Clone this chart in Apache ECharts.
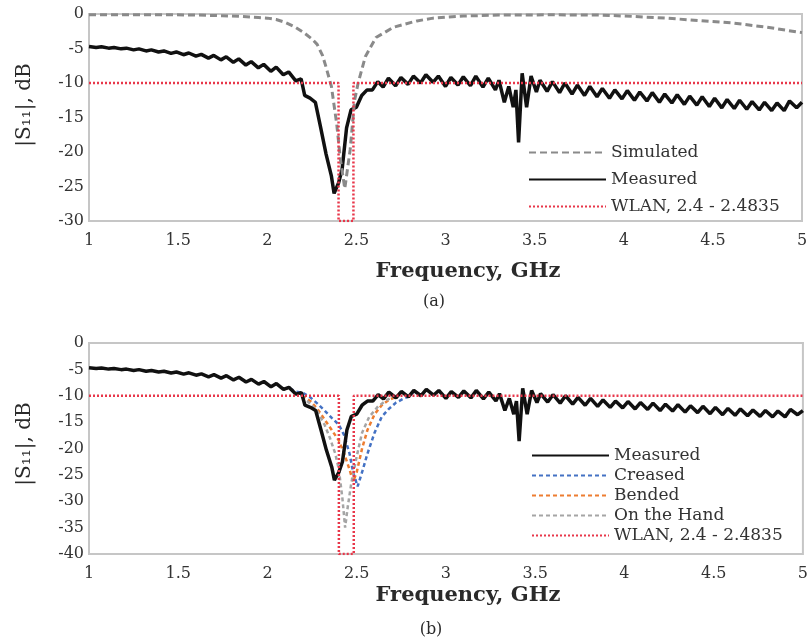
<!DOCTYPE html>
<html>
<head>
<meta charset="utf-8">
<script src="https://cdn.jsdelivr.net/npm/echarts@6/dist/echarts.min.js"></script>
<style>
  html, body { margin: 0; padding: 0; background: #ffffff; }
  #chart { width: 811px; height: 644px; }
</style>
</head>
<body>
<div id="chart"></div>
<script>
// |S11| return loss, frequency in GHz, values in dB

const xTicks = [1, 1.5, 2, 2.5, 3, 3.5, 4, 4.5, 5];
const yTicksA = [0, -5, -10, -15, -20, -25, -30];
const yTicksB = [0, -5, -10, -15, -20, -25, -30, -35, -40];

// Simulated response (panel a)
const simulated = [
  [1.00, -0.10], [1.20, -0.10], [1.40, -0.10], [1.60, -0.15], [1.75, -0.25],
  [1.85, -0.35], [1.95, -0.50], [2.00, -0.60], [2.05, -0.80], [2.10, -1.20],
  [2.15, -1.80], [2.20, -2.60], [2.25, -3.60], [2.28, -4.40], [2.31, -6.00],
  [2.33, -7.70], [2.36, -10.5], [2.39, -16.0], [2.41, -21.0], [2.435, -25.3],
  [2.465, -19.7], [2.49, -12.5], [2.51, -10.0], [2.55, -6.20], [2.61, -3.40],
  [2.71, -1.90], [2.84, -1.00], [2.93, -0.60], [3.10, -0.30], [3.30, -0.15],
  [3.60, -0.12], [3.87, -0.15], [4.05, -0.35], [4.24, -0.60], [4.42, -0.95],
  [4.61, -1.30], [4.80, -1.90], [4.97, -2.60], [5.00, -2.70]
];

// Measured response (both panels)
const measured = [
  [1.00, -4.70], [1.04, -4.85], [1.07, -4.75], [1.11, -4.95], [1.14, -4.85],
  [1.18, -5.05], [1.21, -4.95], [1.25, -5.20], [1.28, -5.05], [1.32, -5.35],
  [1.35, -5.20], [1.39, -5.50], [1.42, -5.35], [1.46, -5.70], [1.49, -5.50],
  [1.53, -5.90], [1.56, -5.65], [1.60, -6.10], [1.63, -5.85], [1.67, -6.40],
  [1.70, -6.00], [1.74, -6.65], [1.77, -6.20], [1.81, -7.00], [1.84, -6.50],
  [1.88, -7.40], [1.91, -6.90], [1.95, -7.80], [1.98, -7.30], [2.02, -8.30],
  [2.05, -7.70], [2.09, -8.80], [2.12, -8.40], [2.16, -9.70], [2.19, -9.40],
  [2.21, -11.8], [2.24, -12.2], [2.27, -12.8], [2.30, -16.5], [2.33, -20.3],
  [2.36, -23.5], [2.375, -26.0], [2.40, -24.5], [2.42, -22.5], [2.445, -16.5],
  [2.47, -13.9], [2.50, -13.5], [2.53, -11.8], [2.56, -11.0], [2.59, -11.0],
  [2.62, -9.80], [2.65, -10.6], [2.68, -9.30], [2.72, -10.4], [2.75, -9.20],
  [2.79, -10.2], [2.82, -9.00], [2.86, -10.0], [2.89, -8.80], [2.93, -9.90],
  [2.96, -9.00], [3.00, -10.5], [3.03, -9.20], [3.07, -10.3], [3.10, -9.10],
  [3.14, -10.4], [3.17, -9.00], [3.21, -10.6], [3.24, -9.30], [3.28, -11.0],
  [3.30, -9.60], [3.33, -12.8], [3.355, -10.5], [3.38, -13.5], [3.395, -11.0],
  [3.41, -18.6], [3.43, -8.60], [3.455, -13.5], [3.48, -9.00], [3.51, -11.3],
  [3.53, -9.60], [3.57, -11.2], [3.60, -9.80], [3.64, -11.4], [3.67, -10.0],
  [3.71, -11.6], [3.74, -10.3], [3.78, -11.8], [3.81, -10.5], [3.85, -12.0],
  [3.88, -10.8], [3.92, -12.2], [3.95, -11.0], [3.99, -12.3], [4.02, -11.1],
  [4.06, -12.5], [4.09, -11.3], [4.13, -12.6], [4.16, -11.4], [4.20, -12.8],
  [4.23, -11.6], [4.27, -12.9], [4.30, -11.7], [4.34, -13.1], [4.37, -11.9],
  [4.41, -13.2], [4.44, -12.0], [4.48, -13.4], [4.51, -12.2], [4.55, -13.6],
  [4.58, -12.4], [4.62, -13.7], [4.65, -12.5], [4.69, -13.8], [4.72, -12.7],
  [4.76, -13.9], [4.79, -12.8], [4.83, -14.0], [4.86, -12.9], [4.90, -14.0],
  [4.93, -12.6], [4.97, -13.6], [5.00, -12.8]
];

// Deformed-antenna responses (panel b), only where they leave the measured trace
const creased = [
  [2.09, -8.80], [2.12, -8.50], [2.16, -9.20], [2.20, -9.50], [2.24, -10.3],
  [2.28, -11.5], [2.32, -12.8], [2.36, -14.2], [2.40, -15.5], [2.43, -17.5],
  [2.46, -21.0], [2.48, -24.5], [2.505, -27.2], [2.53, -24.5], [2.56, -21.0],
  [2.60, -17.0], [2.64, -14.0], [2.68, -12.5], [2.72, -11.3], [2.76, -10.6],
  [2.80, -10.0], [2.82, -9.20]
];
const bended = [
  [2.09, -8.80], [2.12, -8.50], [2.16, -9.50], [2.20, -10.2], [2.24, -11.0],
  [2.28, -12.5], [2.32, -14.5], [2.36, -16.5], [2.40, -18.5], [2.43, -21.0],
  [2.46, -24.0], [2.48, -26.3], [2.50, -24.5], [2.53, -20.0], [2.56, -16.5],
  [2.60, -13.5], [2.64, -11.8], [2.68, -10.8], [2.72, -10.2], [2.75, -9.30]
];
const onTheHand = [
  [2.09, -8.80], [2.12, -8.50], [2.16, -9.60], [2.20, -10.4], [2.24, -11.5],
  [2.28, -13.0], [2.32, -15.5], [2.35, -18.0], [2.38, -21.0], [2.40, -24.0],
  [2.42, -29.5], [2.435, -35.0], [2.45, -31.0], [2.47, -26.5], [2.50, -21.5],
  [2.53, -17.0], [2.57, -14.0], [2.62, -12.0], [2.67, -10.8], [2.72, -10.0],
  [2.75, -9.30]
];

// WLAN band 2.4 - 2.4835 GHz marker at the -10 dB level
const wlanLo = 2.4, wlanHi = 2.4835, wlanLevel = -10;
const wlanA = [[1, wlanLevel], [wlanLo, wlanLevel], [wlanLo, -30], [wlanHi, -30], [wlanHi, wlanLevel], [5, wlanLevel]];
const wlanB = [[1, wlanLevel], [wlanLo, wlanLevel], [wlanLo, -40], [wlanHi, -40], [wlanHi, wlanLevel], [5, wlanLevel]];

const SERIF = "'DejaVu Serif', 'Liberation Serif', serif";
const AXIS_GREY = '#c6c6c6';
const WLAN_NAME = 'WLAN, 2.4 - 2.4835';

function xAxisCfg(gi) {
  return {
    gridIndex: gi, type: 'value', min: 1, max: 5, interval: 0.5,
    axisLine: { show: true, lineStyle: { color: AXIS_GREY, width: 2 } },
    axisTick: { show: false }, splitLine: { show: false },
    axisLabel: { fontFamily: SERIF, fontSize: 16, color: '#333', margin: 12,
                 formatter: v => xTicks.includes(v) ? String(v) : '' }
  };
}
function yAxisCfg(gi, minV, ticks) {
  return {
    gridIndex: gi, type: 'value', min: minV, max: 0, interval: 5,
    axisLine: { show: true, lineStyle: { color: AXIS_GREY, width: 2 } },
    axisTick: { show: false }, splitLine: { show: false },
    axisLabel: { fontFamily: SERIF, fontSize: 16, color: '#333', margin: 5,
                 formatter: v => ticks.includes(v) ? String(v) : '' }
  };
}
function lineSeries(name, data, gi, color, width, type, z) {
  return {
    name, type: 'line', data, xAxisIndex: gi, yAxisIndex: gi,
    showSymbol: false, symbol: 'none', animation: false, z,
    lineStyle: { color, width, type }, itemStyle: { color }
  };
}
const legendBase = {
  orient: 'vertical', itemWidth: 77, itemHeight: 12, selectedMode: false,
  itemStyle: { opacity: 0 },
  textStyle: { fontFamily: SERIF, fontSize: 17, color: '#333' }
};

const chart = echarts.init(document.getElementById('chart'), null, { renderer: 'canvas' });
chart.setOption({
  backgroundColor: '#ffffff',
  animation: false,
  grid: [
    { left: 89, right: 9, top: 14, height: 207, show: true, borderColor: AXIS_GREY, borderWidth: 2 },
    { left: 89, right: 5, top: 343, height: 211, show: true, borderColor: AXIS_GREY, borderWidth: 2 }
  ],
  xAxis: [xAxisCfg(0), xAxisCfg(1)],
  yAxis: [yAxisCfg(0, -30, yTicksA), yAxisCfg(1, -40, yTicksB)],
  legend: [
    Object.assign({}, legendBase, { left: 523, top: 139, itemGap: 10,
      data: ['Simulated', 'Measured', WLAN_NAME] }),
    Object.assign({}, legendBase, { left: 526, top: 442, itemGap: 3,
      data: ['Measured', 'Creased', 'Bended', 'On the Hand', WLAN_NAME] })
  ],
  series: [
    lineSeries('Simulated', simulated, 0, '#8a8a8a', 3, [7, 4], 3),
    lineSeries('Measured', measured, 0, '#111111', 3.5, 'solid', 2),
    lineSeries(WLAN_NAME, wlanA, 0, '#e8374a', 2.5, [2, 2], 4),

    lineSeries('Creased', creased, 1, '#4472c4', 2.5, [4, 3], 2),
    lineSeries('Bended', bended, 1, '#ed7d31', 2.5, [4, 3], 2),
    lineSeries('On the Hand', onTheHand, 1, '#a5a5a5', 2.5, [4, 3], 2),
    lineSeries('Measured', measured, 1, '#111111', 3.5, 'solid', 3),
    lineSeries(WLAN_NAME, wlanB, 1, '#e8374a', 2.5, [2, 2], 4)
  ],
  graphic: [
    { type: 'text', x: 25, y: 105, rotation: Math.PI / 2,
      style: { text: '|S\u2081\u2081|, dB', fontFamily: SERIF, fontSize: 20, fill: '#2a2a2a',
               align: 'center', verticalAlign: 'middle' } },
    { type: 'text', x: 25, y: 444, rotation: Math.PI / 2,
      style: { text: '|S\u2081\u2081|, dB', fontFamily: SERIF, fontSize: 20, fill: '#2a2a2a',
               align: 'center', verticalAlign: 'middle' } },
    { type: 'text', x: 468, y: 272,
      style: { text: 'Frequency, GHz', fontFamily: SERIF, fontSize: 21, fontWeight: 'bold', fill: '#2a2a2a',
               align: 'center', verticalAlign: 'middle' } },
    { type: 'text', x: 468, y: 596,
      style: { text: 'Frequency, GHz', fontFamily: SERIF, fontSize: 21, fontWeight: 'bold', fill: '#2a2a2a',
               align: 'center', verticalAlign: 'middle' } },
    { type: 'text', x: 434, y: 302,
      style: { text: '(a)', fontFamily: SERIF, fontSize: 16, fill: '#2a2a2a', align: 'center', verticalAlign: 'middle' } },
    { type: 'text', x: 431, y: 630,
      style: { text: '(b)', fontFamily: SERIF, fontSize: 16, fill: '#2a2a2a', align: 'center', verticalAlign: 'middle' } }
  ]
});
</script>
</body>
</html>
